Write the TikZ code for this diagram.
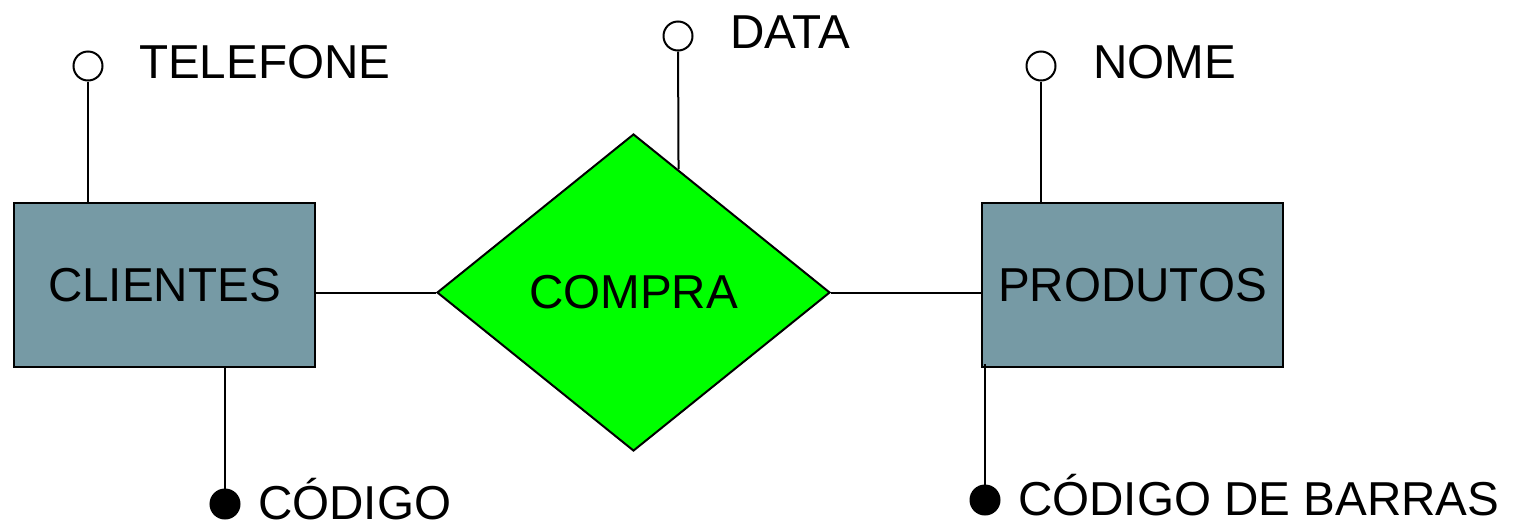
\documentclass[tikz,border=0pt]{standalone}
\usepackage{fontspec}
\setmainfont{Liberation Sans}
\usetikzlibrary{shapes.geometric,calc}
\definecolor{entfill}{RGB}{118,154,165}
\definecolor{relfill}{RGB}{0,255,0}
\begin{document}
\begin{tikzpicture}
          [x=1pt,y=-1pt,line width=2pt,
           every node/.style={font=\fontsize{47.6}{56}\selectfont},
           entity/.style={draw, line width=2.2pt, rectangle, fill=entfill, minimum width=301pt, minimum height=164pt, inner sep=0pt},
           relation/.style={draw, diamond, fill=relfill, minimum width=393pt, minimum height=317pt, inner sep=0pt},
           attr/.style={draw, circle, fill=white, minimum size=29pt, inner sep=0pt},
           keyattr/.style={attr, fill=black},
           attrname/.style={anchor=base west, inner sep=0pt}]
        \useasboundingbox (0,0) rectangle (1513,528);

        \node[entity] (clientes) at (164.5,285) {CLIENTES};
        \node[entity] (produtos) at (1132.5,285) {PRODUTOS};
        \node[relation] (compra) at (633.5,292.5) {COMPRA};

        \node[attr] (telefone) at (88,66) {};
        \node[attr] (data) at (678,36) {};
        \node[attr] (nome) at (1041,66) {};
        \node[keyattr] (codigo) at (225,504) {};
        \node[keyattr] (codbarras) at (985,500) {};

        \node[attrname] (lTelefone) at (138,78) {TELEFONE};
        \node[attrname] (lData) at (729,48) {DATA};
        \node[attrname] (lNome) at (1092,78) {NOME};
        \node[attrname] (lCodigo) at (257,519) {CÓDIGO};
        \node[attrname] (lCodbarras) at (1017,515) {CÓDIGO DE BARRAS};

        \foreach \a/\e/\s in {telefone/clientes/north, nome/produtos/north, codigo/clientes/south}
          \draw (\a) -- (\a |- \e.\s);
        \draw (codbarras) -- ([yshift=4pt]codbarras |- produtos.south);
        \draw (data) -- ($(compra.north)!0.228!(compra.east)$);
        \draw (clientes.east |- compra.west) -- (compra.west);
        \draw (compra.east) -- (compra.east -| produtos.west);
      \end{tikzpicture}
\end{document}
